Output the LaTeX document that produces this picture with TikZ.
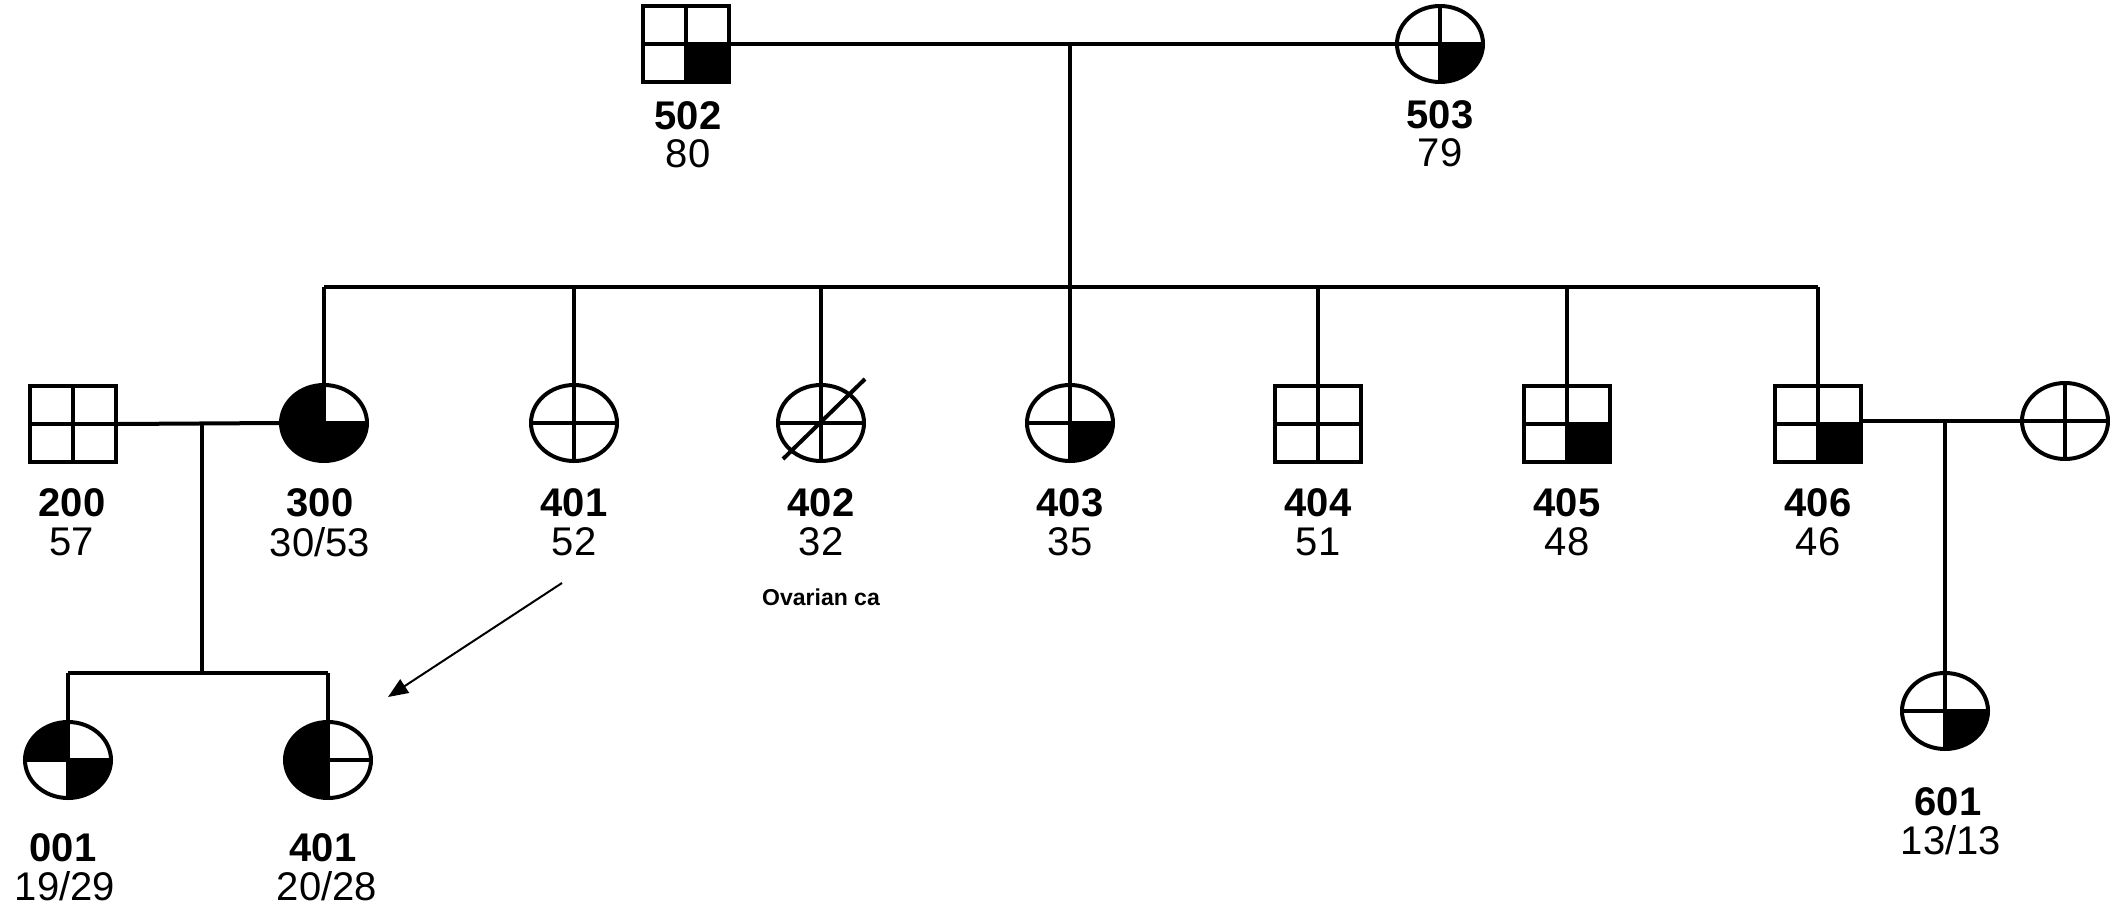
\documentclass[tikz,border=0pt]{standalone}
\usepackage{fontspec}
\setmainfont{Liberation Sans}
\usetikzlibrary{shapes.geometric,arrows.meta}
\newcommand\qTL{\fill (path picture bounding box.center) rectangle (path picture bounding box.north west);}
\newcommand\qTR{\fill (path picture bounding box.center) rectangle (path picture bounding box.north east);}
\newcommand\qBL{\fill (path picture bounding box.center) rectangle (path picture bounding box.south west);}
\newcommand\qBR{\fill (path picture bounding box.center) rectangle (path picture bounding box.south east);}
\newcommand\qCross{\draw[line width=2pt] (path picture bounding box.north) -- (path picture bounding box.south) (path picture bounding box.west) -- (path picture bounding box.east);}
\tikzset{
  ind/.style={draw, line width=2pt, inner sep=0pt, minimum width=43pt, minimum height=38pt},
  male/.style={ind, rectangle, path picture={#1\qCross}},
  male/.default={},
  female/.style={ind, ellipse, path picture={#1\qCross}},
  female/.default={},
  conn/.style={line width=2pt},
  idtext/.style={font=\bfseries\fontsize{20}{24}\selectfont, inner sep=0pt},
  agetext/.style={font=\fontsize{20}{24}\selectfont, inner sep=0pt},
  notetext/.style={font=\bfseries\fontsize{11.5}{14}\selectfont, inner sep=0pt},
}
\begin{document}
\begin{tikzpicture}[x=0.5pt,y=-0.5pt]
\useasboundingbox[fill=white] (0,0) rectangle (2110,910);
% generation I
\node[male={\qBR}] (n502) at (686,44) {};
\node[female={\qBR}] (n503) at (1440,44) {};
% generation II
\node[male] (n200) at (73,424) {};
\node[female={\qTL\qBL\qBR}] (n300) at (324,423) {};
\node[female] (n401) at (574,423) {};
\node[female] (n402) at (821,423) {};
\node[female={\qBR}] (n403) at (1070,423) {};
\node[male] (n404) at (1318,424) {};
\node[male={\qBR}] (n405) at (1567,424) {};
\node[male={\qBR}] (n406) at (1818,424) {};
\node[female] (nsp) at (2065,421) {};
% generation III
\node[female={\qTL\qBR}] (n001) at (68,760) {};
\node[female={\qTL\qBL}] (n401b) at (328,760) {};
\node[female={\qBR}] (n601) at (1945,711) {};
% deceased slash
\draw[conn] (n402.center) ++(-38,36) -- ++(82,-80);
% labels
\node[idtext] (t502) at (688,116) {502};
\node[agetext] (a502) at (688,154) {80};
\node[idtext] (t503) at (1440,115) {503};
\node[agetext] (a503) at (1440,153) {79};
\foreach \n/\id/\age/\x in {200/200/57/72, 300/300/30\slash 53/320, 401/401/52/574, 402/402/32/821, 403/403/35/1070, 404/404/51/1318, 405/405/48/1567, 406/406/46/1818}{
  \node[idtext] (t\n) at (\x,503) {\id};
  \node[agetext] (a\n) at (\x,542) {\age};
}
\node[notetext] (note402) at (821,597) {Ovarian ca};
\node[idtext] (t001) at (63,848) {001};
\node[agetext] (a001) at (65,886) {19/29};
\node[idtext] (t401b) at (323,848) {401};
\node[agetext] (a401b) at (327,886) {20/28};
\node[idtext] (t601) at (1948,802) {601};
\node[agetext] (a601) at (1951,840) {13/13};
% connectors
\draw[conn] (n502.east) -- (n503.west);
\coordinate (m1) at (n403.north |- n502.east);
\coordinate (sib) at (1070,287);
\draw[conn] (m1) -- (sib);
\draw[conn] (n300.north |- sib) -- (n406.north |- sib);
\foreach \n in {300,401,402,403,404,405,406}{
  \draw[conn] (n\n.north) -- (n\n.north |- sib);
}
\draw[conn] (n200.east) -- (n300.west);
\coordinate (m2) at (202,423);
\coordinate (sib2) at (202,673);
\draw[conn] (m2) -- (sib2);
\draw[conn] (n001.north |- sib2) -- (n401b.north |- sib2);
\draw[conn] (n001.north) -- (n001.north |- sib2);
\draw[conn] (n401b.north) -- (n401b.north |- sib2);
\draw[conn] (nsp.west) -- (nsp.west -| n406.east);
\coordinate (m3) at (n601.north |- nsp.west);
\draw[conn] (m3) -- (n601.north);
% arrow
\coordinate (a1) at (562,583);
\coordinate (a2) at (388,697);
\draw[line width=1pt, -{Triangle[length=10pt,width=8pt]}] (a1) -- (a2);
\end{tikzpicture}
\end{document}
